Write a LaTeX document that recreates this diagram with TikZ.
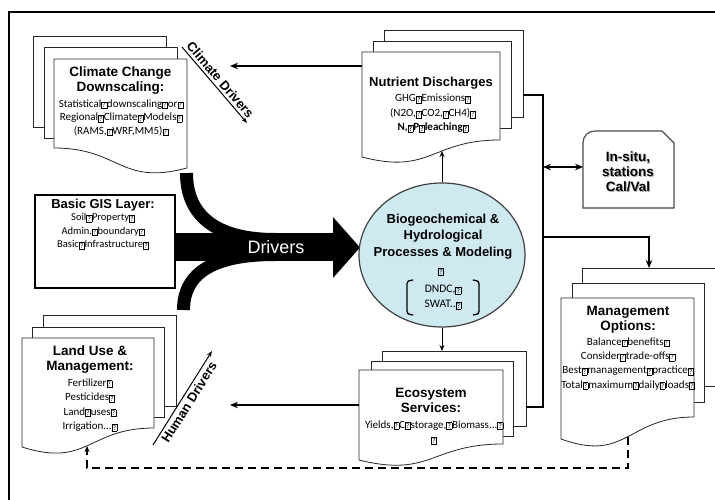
\documentclass[tikz,border=0pt]{standalone}
\usepackage{fontspec}
\setmainfont{Carlito}
\newfontfamily\hf{Liberation Sans}
\usetikzlibrary{arrows.meta,shapes.geometric}
\newcommand\qb{{\setlength\fboxsep{0.7pt}\setlength\fboxrule{0.45pt}\raisebox{-0.4pt}{\fbox{\fontsize{7.2}{7.2}\selectfont ?}}}}
\definecolor{circblue}{RGB}{207,233,240}
\begin{document}
\begin{tikzpicture}[x=1pt,y=-1pt,
  docpage/.style={draw=black!85, fill=white, line width=0.8pt},
  ttl/.style={font=\hf\bfseries\fontsize{13.5}{15}\selectfont, align=center, inner sep=0pt},
  bdy/.style={font=\fontsize{11}{14.3}\selectfont, align=center, inner sep=0pt},
  conn/.style={line width=1.5pt, -{Stealth[length=8pt,width=6.5pt]}},
  vconn/.style={line width=1pt, -{Stealth[length=6pt,width=5pt]}},
  busline/.style={line width=1.8pt},
  drvlabel/.style={font=\hf\bfseries\fontsize{13}{13}\selectfont, inner sep=2.5pt},
]
\useasboundingbox (0,0) rectangle (715,500);
\clip (0,0) rectangle (715,500);
\draw[line width=2pt] (9,12) rectangle (730,520);

% ---------- Climate Change Downscaling (mirrored stack)
\draw[docpage] (33,36) rectangle (166,127);
\draw[docpage] (44,47) rectangle (177,138);
\draw[docpage] (54,59) -- (187,59) -- (187,168) .. controls (120,186) and (120,148) .. (54,148) -- cycle;
\node[ttl] (cct) at (120.5,80.5) {Climate Change\\Downscaling:};
\node[bdy, font=\fontsize{11}{13.5}\selectfont] (ccb) at (121,117.7) {Statistical\qb downscaling\qb or\qb\\Regional\qb Climate\qb Models\qb\\(RAMS,\qb WRF,MM5)\qb};

% ---------- Nutrient Discharges
\draw[docpage] (384,30) rectangle (523,117);
\draw[docpage] (373,41) rectangle (511,128);
\draw[docpage] (362,52) -- (500,52) -- (500,140) .. controls (431,140) and (431,175) .. (362,157) -- cycle;
\node[ttl, font=\hf\bfseries\fontsize{13}{15}\selectfont] (ndt) at (431,83) {Nutrient Discharges};
\node[bdy, font=\fontsize{11}{14.5}\selectfont] (ndb) at (433,113.5) {GHG\qb Emissions\qb\\(N2O,\qb CO2,\qb CH4)\qb\\\textbf{N,\qb P\qb leaching\qb}};

% ---------- Ecosystem Services
\draw[docpage] (382,351) rectangle (526,426);
\draw[docpage] (371,361) rectangle (513,436);
\draw[docpage] (359,370) -- (503,370) -- (503,444) .. controls (431,444) and (431,478) .. (359,460) -- cycle;
\node[ttl] (est) at (431,400.5) {Ecosystem\\Services:};
\node[bdy, font=\fontsize{11}{15}\selectfont] (esb) at (434,432.5) {Yields,\qb C\qb storage,\qb Biomass...\qb\\\qb};

% ---------- Management Options
\draw[docpage] (582,268) rectangle (730,386);
\draw[docpage] (572,283) rectangle (704,402);
\draw[docpage] (561,298) -- (694,298) -- (694,417) .. controls (627,417) and (627,463) .. (561,439) -- cycle;
\node[ttl] (mot) at (628,319.5) {Management\\Options:};
\node[bdy] (mob) at (628,363.7) {Balance\qb benefits\qb\\Consider\qb trade-offs\qb\\Best\qb management\qb practice\qb\\Total\qb maximum\qb daily\qb loads\qb};

% ---------- Land Use & Management
\draw[docpage] (43,315) rectangle (176,406);
\draw[docpage] (32,327) rectangle (164,417);
\draw[docpage] (22,338) -- (154,338) -- (154,428) .. controls (88,428) and (88,468) .. (22,447) -- cycle;
\node[ttl] (lut) at (90,359.5) {Land Use \&\\Management:};
\node[bdy, font=\fontsize{11}{14.5}\selectfont] (lub) at (90,405) {Fertilizer\qb\\Pesticides\qb\\Land\qb uses\qb\\Irrigation...\qb};

% ---------- Basic GIS Layer
\draw[line width=1.2pt] (35,195) rectangle (175,288);
\node[ttl, font=\hf\bfseries\fontsize{13}{15}\selectfont] (gist) at (103,205) {Basic GIS Layer:};
\node[bdy, font=\fontsize{10.5}{13.5}\selectfont] (gisb) at (103,231.5) {Soil\qb Property\qb\\Admin.\qb boundary\qb\\Basic\qb Infrastructure\qb};

% ---------- Drivers arrow
\draw[line width=13pt] (186.5,173) .. controls (186.5,215) and (215,239.5) .. (275,239.5);
\draw[line width=13pt] (183.5,310) .. controls (183.5,272) and (215,254.5) .. (275,254.5);
\fill (175,233) rectangle (335,261);
\fill (333,217) -- (360,247.5) -- (333,278) -- cycle;
\node[font=\hf\fontsize{18}{18}\selectfont, text=white, inner sep=0pt] (drv) at (276,247) {Drivers};

% ---------- Central ellipse
\node[draw=black!75, line width=1.2pt, fill=circblue, ellipse, minimum width=166pt, minimum height=144pt, inner sep=0pt] (bio) at (442,255) {};
\node[ttl, font=\hf\bfseries\fontsize{13}{16.5}\selectfont] (biot) at (443,236.5) {Biogeochemical \&\\Hydrological\\Processes \& Modeling};
\node[inner sep=0pt] (bioq) at (441,272) {\qb};
\node[bdy, font=\fontsize{11.5}{15}\selectfont] (biom) at (443,297.5) {DNDC,\qb\\SWAT..\qb};
\draw[line width=1.3pt] (413,280) .. controls (407,281) .. (407,287) -- (407,308) .. controls (407,314) .. (413,315);
\draw[line width=1.3pt] (473,280) .. controls (479,281) .. (479,287) -- (479,308) .. controls (479,314) .. (473,315);

% ---------- In-situ box
\draw[line width=1.2pt, draw=black!70, fill=white] (583,208) -- (583,143) .. controls (583,136) and (588,131) .. (595,131) -- (662,131) -- (674,143) -- (674,208) -- cycle;
\node[ttl, text=black!30, font=\hf\bfseries\fontsize{13.5}{15}\selectfont] (sitush) at (629,173) {In-situ,\\stations\\Cal/Val};
\node[ttl, font=\hf\bfseries\fontsize{13.5}{15}\selectfont] (situ) at (628,172) {In-situ,\\stations\\Cal/Val};

% ---------- connector coordinates
\coordinate (nutW) at (362,66);
\coordinate (clmTip) at (230,66);
\coordinate (ecoW) at (359,405);
\coordinate (luTip) at (230,405);
\coordinate (nutB) at (442,151);
\coordinate (ecoT) at (442,351);
\coordinate (nutE) at (523,95);
\coordinate (busT) at (543,95);
\coordinate (busB) at (543,407);
\coordinate (ecoE) at (526,407);
\coordinate (busM) at (543,237);
\coordinate (moT) at (649,268);
\coordinate (busS) at (543,167);
\coordinate (situL) at (583,167);
\coordinate (cdA) at (182,47);
\coordinate (cdB) at (247,123);
\coordinate (hdA) at (153,445);
\coordinate (hdB) at (212,351);
\coordinate (moB) at (628,437);
\coordinate (dashC) at (628,468);
\coordinate (luB) at (87,446);

% ---------- connectors
\draw[conn] (nutW) -- (clmTip);
\draw[conn] (ecoW) -- (luTip);
\draw[vconn] (bio.north) -- (nutB);
\draw[vconn] (bio.south) -- (ecoT);
\draw[busline] (nutE) -- (busT) -- (busB) -- (ecoE);
\draw[busline, -{Stealth[length=8pt,width=6.5pt]}] (busM) -| (moT);
\draw[line width=1.5pt, {Stealth[length=8pt,width=6.5pt]}-{Stealth[length=8pt,width=6.5pt]}] (busS) -- (situL);
\draw[line width=1pt, -{Stealth[length=6pt,width=4.5pt]}] (cdA) -- node[sloped, above, drvlabel] (cdl) {Climate Drivers} (cdB);
\draw[line width=1pt, -{Stealth[length=6pt,width=4.5pt]}] (hdA) -- node[sloped, below, drvlabel] (hdl) {Human Drivers} (hdB);
\draw[line width=1.5pt, dash pattern=on 8pt off 5pt, -{Stealth[length=6pt,width=5pt]}] (moB) -- (dashC) -| (luB);
\end{tikzpicture}
\end{document}
